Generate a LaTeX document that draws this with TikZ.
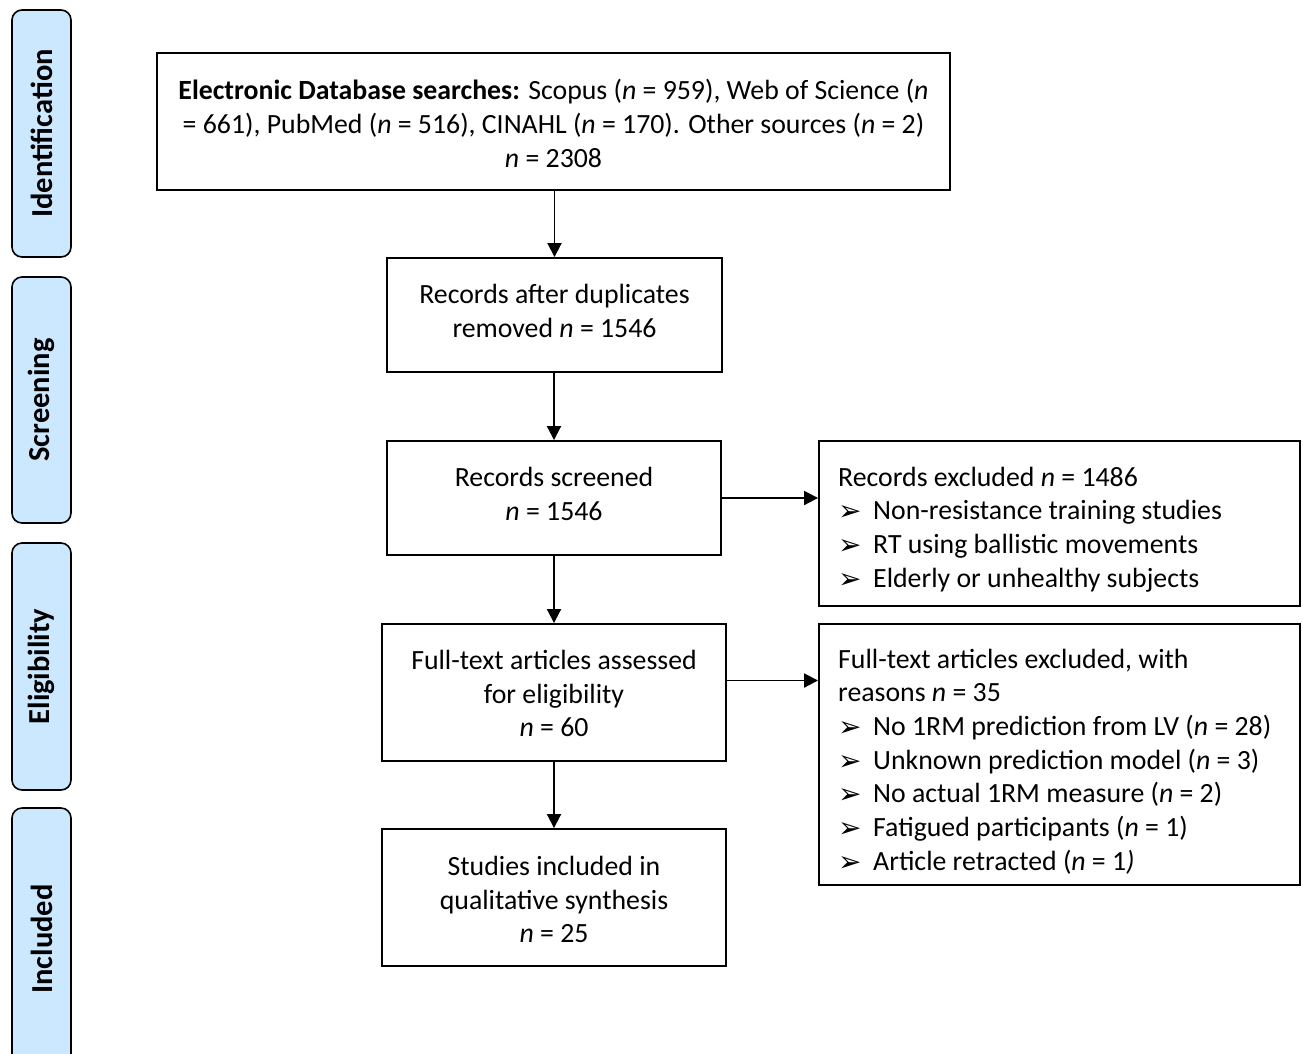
\documentclass[tikz,border=0pt]{standalone}
\usepackage{fontspec}
\setmainfont{Carlito}
\newfontfamily\dvs{DejaVu Sans}
\usetikzlibrary{arrows.meta}
\definecolor{stageblue}{RGB}{204,232,255}
\newcommand{\bul}{\makebox[35pt][l]{\raisebox{-1pt}{\dvs\fontsize{28}{28}\selectfont ➢}}}
\begin{document}
\begin{tikzpicture}[x=1pt,y=-1pt,
  box/.style={draw=black, line width=1.9pt, inner sep=0pt},
  txt/.style={align=center, inner sep=0pt, font=\fontsize{27.8}{33.7}\selectfont},
  ltxt/.style={align=left, inner sep=0pt, anchor=west, font=\fontsize{27.8}{33.7}\selectfont},
  stage/.style={draw=black, line width=1.6pt, fill=stageblue, rounded corners=10pt,
    rotate=90, inner sep=0pt, font=\fontsize{30.5}{34}\selectfont\bfseries},
  arr/.style={line width=1.9pt, -{Triangle[length=14pt,width=14pt]}}
]
\clip (0,0) rectangle (1303,1053);
\useasboundingbox (0,0) rectangle (1303,1053);
\fill[white] (0,0) rectangle (1303,1053);

% stage labels
\node[stage, minimum width=247pt, minimum height=59pt] (s1) at (41.5,133.5) {Identification};
\node[stage, minimum width=246pt, minimum height=59pt] (s2) at (41.5,400) {Screening};
\node[stage, minimum width=247pt, minimum height=59pt] (s3) at (41.5,666.5) {Eligibility};
\node[stage, minimum width=262pt, minimum height=59pt] (s4) at (41.5,939) {Included};

% main boxes
\node[box, minimum width=793pt, minimum height=137pt] (b1) at (553.5,121.5) {};
\node[txt] (t1) at (553.5,123.5)
 {\textbf{Electronic Database searches:} Scopus (\textit{n} = 959), Web of Science (\textit{n}\\
  = 661), PubMed (\textit{n} = 516), CINAHL (\textit{n} = 170). Other sources (\textit{n} = 2)\\
  \textit{n} = 2308};
\node[box, minimum width=335pt, minimum height=114pt] (b2) at (554.5,315) {};
\node[txt] (t2) at (554.5,311) {Records after duplicates\\ removed \textit{n} = 1546};
\node[box, minimum width=334pt, minimum height=114pt] (b3) at (554,498) {};
\node[txt] (t3) at (554,494) {Records screened\\ \textit{n} = 1546};
\node[box, minimum width=344pt, minimum height=137pt] (b4) at (554,692.5) {};
\node[txt] (t4) at (554,693.5) {Full-text articles assessed\\ for eligibility\\ \textit{n} = 60};
\node[box, minimum width=344pt, minimum height=137pt] (b5) at (554,897.5) {};
\node[txt] (t5) at (554,899.5) {Studies included in\\ qualitative synthesis\\ \textit{n} = 25};

% exclusion boxes
\node[box, minimum width=481pt, minimum height=165pt] (e1) at (1059.5,523.5) {};
\node[ltxt] (te1) at (838,529.5)
 {Records excluded \textit{n} = 1486\\
  \bul Non-resistance training studies\\
  \bul RT using ballistic movements\\
  \bul Elderly or unhealthy subjects};
\node[box, minimum width=481pt, minimum height=261pt] (e2) at (1059.5,754.5) {};
\node[ltxt] (te2) at (838,761.5)
 {Full-text articles excluded, with\\
  reasons \textit{n} = 35\\
  \bul No 1RM prediction from LV (\textit{n} = 28)\\
  \bul Unknown prediction model (\textit{n} = 3)\\
  \bul No actual 1RM measure (\textit{n} = 2)\\
  \bul Fatigued participants (\textit{n} = 1)\\
  \bul Article retracted (\textit{n} = 1\textit{)}};

% connectors
\draw[arr] (b1.south -| b2.north) -- (b2.north);
\draw[arr] (b2.south -| b3.north) -- (b3.north);
\draw[arr] (b3.south) -- (b4.north);
\draw[arr] (b4.south) -- (b5.north);
\draw[arr] (b3.east) -- (b3.east -| e1.west);
\coordinate (b4r) at ([yshift=12pt]b4.east);
\draw[arr] (b4r) -- (b4r -| e2.west);
\end{tikzpicture}
\end{document}
